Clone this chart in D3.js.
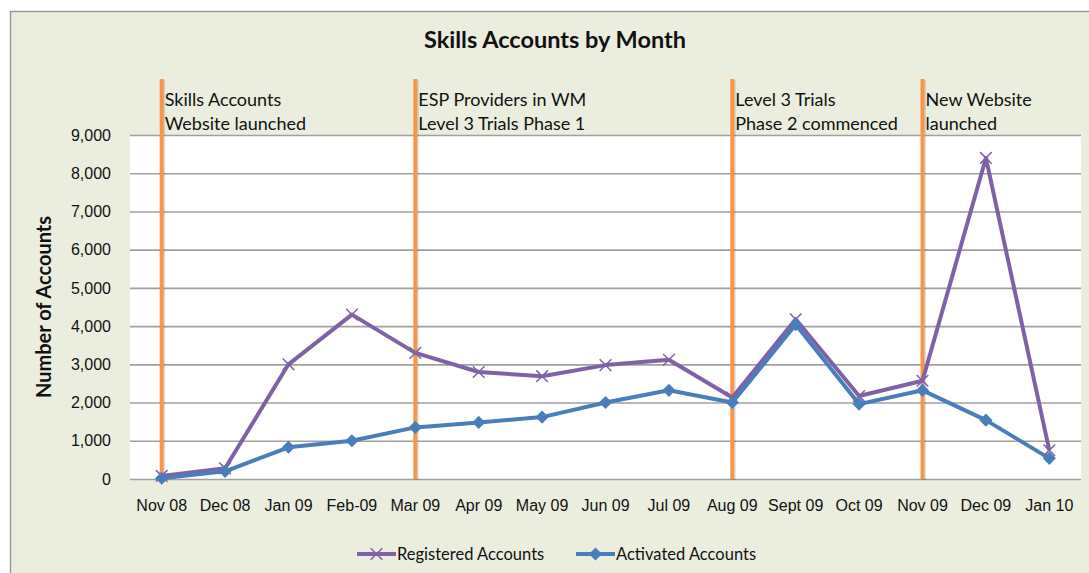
<!DOCTYPE html>
<html lang="en">
<head>
  <meta charset="UTF-8">
  <script src="https://d3js.org/d3.v7.min.js"></script>
  <title>Skills Accounts by Month</title>
  <style>
    body { margin: 0; background: #fff; }
    svg { display: block; font-family: Lato, "Open Sans", sans-serif; }
  </style>
</head>
<body>
  <div id="wrapper"></div>
  <script>
    // data
    const months = ["Nov 08", "Dec 08", "Jan 09", "Feb-09", "Mar 09", "Apr 09", "May 09", "Jun 09",
      "Jul 09", "Aug 09", "Sept 09", "Oct 09", "Nov 09", "Dec 09", "Jan 10"]
    const registered = [80, 280, 3000, 4300, 3300, 2800, 2690, 2980, 3120, 2130, 4180, 2170, 2570, 8400, 750]
    const activated = [20, 200, 830, 1000, 1350, 1480, 1620, 2000, 2320, 2000, 4040, 1960, 2320, 1540, 540]
    const yTicks = [0, 1000, 2000, 3000, 4000, 5000, 6000, 7000, 8000, 9000]
    const eventMonths = ["Nov 08", "Mar 09", "Aug 09", "Nov 09"]
    const eventLabels = [
      ["Skills Accounts", "Website launched"],
      ["ESP Providers in WM", "Level 3 Trials Phase 1"],
      ["Level 3 Trials", "Phase 2 commenced"],
      ["New Website", "launched"]
    ]

    const width = 1089
    const height = 573
    const plot = { left: 130, right: 1081, top: 135, bottom: 479 }

    const svg = d3.select("#wrapper")
      .append("svg")
      .attr("width", width)
      .attr("height", height)

    // chart frame
    svg.append("rect")
      .attr("x", 10.5).attr("y", 11.5)
      .attr("width", 1200).attr("height", 700)
      .attr("fill", "#ebeede")
      .attr("stroke", "#9a9a9a")
      .attr("stroke-width", 1.5)

    svg.append("rect")
      .attr("x", plot.left).attr("y", plot.top)
      .attr("width", plot.right - plot.left)
      .attr("height", plot.bottom - plot.top)
      .attr("fill", "#fff")

    const xScale = d3.scaleBand()
      .domain(months)
      .range([plot.left, plot.right])
      .padding(0)
    const xPos = m => xScale(m) + xScale.bandwidth() / 2

    const yScale = d3.scaleLinear()
      .domain([0, 9000])
      .range([plot.bottom, plot.top])

    // gridlines + y labels
    const yAxis = svg.append("g")
      .attr("transform", `translate(${plot.left},0)`)
      .call(d3.axisLeft(yScale)
        .tickValues(yTicks)
        .tickSize(-(plot.right - plot.left))
        .tickPadding(19)
        .tickFormat(d3.format(",")))
    yAxis.select(".domain").remove()
    yAxis.selectAll(".tick line").attr("stroke", "#a0a0a0").attr("stroke-width", 1.6)
    yAxis.selectAll(".tick text")
      .attr("fill", "#111")
      .style("font-size", "16px")

    // x labels
    const xAxis = svg.append("g")
      .attr("transform", `translate(0,${plot.bottom})`)
      .call(d3.axisBottom(xScale).tickSize(0).tickPadding(21))
    xAxis.select(".domain").remove()
    xAxis.selectAll(".tick text")
      .attr("fill", "#111")
      .style("font-size", "16px")

    // event lines
    eventMonths.forEach((m, i) => {
      const x = xPos(m)
      svg.append("line")
        .attr("x1", x + 1.5).attr("x2", x + 1.5)
        .attr("y1", 80).attr("y2", plot.bottom + 1)
        .attr("stroke", "#000").attr("stroke-opacity", 0.12)
        .attr("stroke-width", 4)
      svg.append("line")
        .attr("x1", x).attr("x2", x)
        .attr("y1", 79).attr("y2", plot.bottom)
        .attr("stroke", "#f79646")
        .attr("stroke-width", 4)
      svg.append("text")
        .attr("x", x + 3)
        .attr("y", 106)
        .attr("fill", "#111")
        .style("font-size", "18px")
        .selectAll("tspan")
        .data(eventLabels[i])
        .join("tspan")
        .attr("x", x + 3)
        .attr("dy", (d, j) => j === 0 ? 0 : 24)
        .text(d => d)
    })

    const line = d3.line()
      .x((d, i) => xPos(months[i]))
      .y(d => yScale(d))

    const purple = "#7f62a6"
    const blue = "#4a7ebb"

    svg.append("path")
      .datum(registered)
      .attr("d", line)
      .attr("fill", "none")
      .attr("stroke", purple)
      .attr("stroke-width", 4)
      .attr("stroke-linejoin", "round")

    svg.append("path")
      .datum(activated)
      .attr("d", line)
      .attr("fill", "none")
      .attr("stroke", blue)
      .attr("stroke-width", 4)
      .attr("stroke-linejoin", "round")

    const cross = d3.symbol().type(d3.symbolX).size(90)
    const diamond = d3.symbol().type(d3.symbolDiamond2).size(110)

    svg.append("g").selectAll("path")
      .data(registered)
      .join("path")
      .attr("transform", (d, i) => `translate(${xPos(months[i])},${yScale(d)})`)
      .attr("d", cross)
      .attr("fill", "none")
      .attr("stroke", purple)
      .attr("stroke-width", 1.5)

    svg.append("g").selectAll("path")
      .data(activated)
      .join("path")
      .attr("transform", (d, i) => `translate(${xPos(months[i])},${yScale(d)})`)
      .attr("d", diamond)
      .attr("fill", blue)

    // title
    svg.append("text")
      .attr("x", 555).attr("y", 48)
      .attr("text-anchor", "middle")
      .attr("fill", "#111")
      .style("font-size", "23.5px")
      .style("font-weight", "bold")
      .text("Skills Accounts by Month")

    // y title
    svg.append("text")
      .attr("transform", "translate(51,307) rotate(-90)")
      .attr("text-anchor", "middle")
      .attr("fill", "#111")
      .style("font-size", "20px")
      .style("font-weight", "bold")
      .text("Number of Accounts")

    // legend
    const legend = [
      { name: "Registered Accounts", color: purple, symbol: cross, x: 357, filled: false },
      { name: "Activated Accounts", color: blue, symbol: diamond, x: 576, filled: true }
    ]
    legend.forEach(l => {
      const g = svg.append("g").attr("transform", `translate(${l.x},554)`)
      g.append("line").attr("x1", 0).attr("x2", 39)
        .attr("stroke", l.color).attr("stroke-width", 4)
      g.append("path")
        .attr("transform", "translate(19.5,0)")
        .attr("d", l.symbol)
        .attr("fill", l.filled ? l.color : "none")
        .attr("stroke", l.filled ? "none" : l.color)
        .attr("stroke-width", 1.5)
      g.append("text")
        .attr("x", 40).attr("y", 6)
        .attr("fill", "#111")
        .style("font-size", "16.5px")
        .text(l.name)
    })
  </script>
</body>
</html>
